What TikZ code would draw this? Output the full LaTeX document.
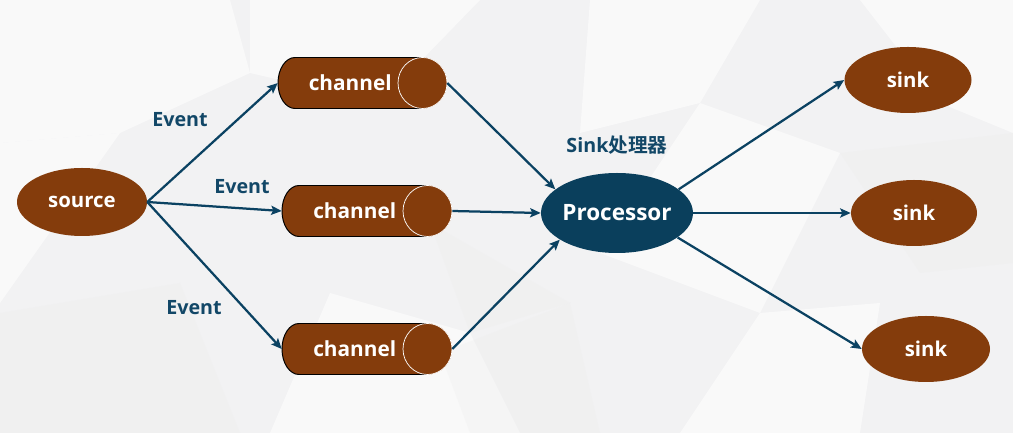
\documentclass[tikz,border=0pt]{standalone}
\usepackage{fontspec}
\setmainfont{Open Sans}[BoldFont={Open Sans Bold}]
\newfontfamily\cjk{Noto Sans CJK SC}[BoldFont={Noto Sans CJK SC Bold}]
\usetikzlibrary{shapes.geometric,arrows.meta}
\definecolor{brownfill}{HTML}{843C0C}
\definecolor{procfill}{HTML}{0A3F5C}
\definecolor{arrowcol}{HTML}{0B4262}
\definecolor{labelcol}{HTML}{124767}
\definecolor{bgbase}{HTML}{F2F2F3}
\def\u{0.025cm}
\tikzset{
  blob/.style={ellipse, fill=brownfill, inner sep=0pt, text=white, font=\bfseries\fontsize{14.5}{16}\selectfont},
  procnode/.style={ellipse, fill=procfill, inner sep=0pt, text=white, font=\bfseries\fontsize{16}{18}\selectfont},
  chanbox/.style={rectangle, inner sep=0pt, minimum height=51*\u},
  chantext/.style={text=white, inner sep=0pt, font=\bfseries\fontsize{14.8}{16}\selectfont},
  evlabel/.style={text=labelcol, inner sep=0pt, font=\bfseries\fontsize{14}{15}\selectfont},
  flow/.style={draw=arrowcol, line width=1.6pt, -{Stealth[length=7.5pt,width=6.5pt,inset=1.5pt]}},
  bgpoly/.style={fill=white, fill opacity=0.55, draw=none},
  bgdark/.style={fill=black!8, fill opacity=0.25, draw=none}
}
% channel: name, left x, right x, centre y
\newcommand{\chanshape}[4]{%
  \pgfmathsetmacro{\xc}{#3-24.5}%
  \pgfmathsetmacro{\xlr}{#2+17}%
  \fill[brownfill] (\xc,#4+25.5) -- (\xlr,#4+25.5)
     arc[start angle=90,end angle=270,x radius=17,y radius=25.5]
     -- (\xc,#4-25.5)
     arc[start angle=270,end angle=450,x radius=24.5,y radius=25.5] -- cycle;
  \draw[black, line width=0.7pt] (\xc,#4+25.5) -- (\xlr,#4+25.5)
     arc[start angle=90,end angle=270,x radius=17,y radius=25.5]
     -- (\xc,#4-25.5);
  \draw[white, line width=0.5pt, fill=brownfill] (\xc,#4) ellipse [x radius=24.5, y radius=25.5];
  \node[chanbox, minimum width={(#3-#2)*\u}] (#1) at ({(#2+#3)/2},#4) {};
  \node[chantext] (#1t) at ({(#2+\xc)/2},#4) {channel};
}
\begin{document}
\begin{tikzpicture}[x=0.025cm,y=0.025cm]
\useasboundingbox (0,0) rectangle (1013,433);
\fill[bgbase] (0,0) rectangle (1013,433);
% background facets
\path[bgpoly] (0,433) -- (230,433) -- (250,360) -- (120,300) -- (0,290) -- cycle;
\path[bgpoly] (250,433) -- (480,433) -- (380,330) -- (250,360) -- cycle;
\path[bgpoly] (590,433) -- (760,433) -- (700,330) -- (580,300) -- cycle;
\path[bgpoly] (600,180) -- (700,330) -- (840,280) -- (760,120) -- cycle;
\path[bgpoly] (860,433) -- (1013,433) -- (1013,300) -- (940,330) -- cycle;
\path[bgpoly] (0,130) -- (120,300) -- (0,290) -- cycle;
\path[bgpoly] (270,0) -- (520,0) -- (470,100) -- (330,140) -- cycle;
\path[bgpoly] (680,0) -- (860,0) -- (880,130) -- (760,120) -- cycle;
\path[bgdark] (0,0) -- (0,120) -- (180,150) -- (240,0) -- cycle;
\path[bgdark] (440,80) -- (570,130) -- (600,0) -- (470,0) -- cycle;
\path[bgdark] (840,280) -- (1013,300) -- (1013,170) -- (920,160) -- cycle;
\path[bgdark] (430,210) -- (470,100) -- (570,130) -- cycle;

% nodes
\node[blob, minimum width=130*\u, minimum height=68*\u] (src) at (82,231) {source};
\chanshape{c1}{278}{447}{350}
\chanshape{c2}{282}{452}{222}
\chanshape{c3}{282}{452}{84}
\node[procnode, minimum width=152*\u, minimum height=80*\u] (proc) at (617,220) {\makebox[0pt]{Processor}};
\node[blob, minimum width=127*\u, minimum height=66*\u] (s1) at (908,353) {sink};
\node[blob, minimum width=126*\u, minimum height=66*\u] (s2) at (914,220) {sink};
\node[blob, minimum width=128*\u, minimum height=66*\u] (s3) at (926,84) {sink};

% labels
\node[evlabel] (e1) at (180,313) {Event};
\node[evlabel] (e2) at (242,246) {Event};
\node[evlabel] (e3) at (194,125) {Event};
\node[evlabel] (plabel) at (617,288) {Sink{\cjk 处理器}};

% connectors
\draw[flow] (src.east) -- (c1.west);
\draw[flow] (src.east) -- (c2.west);
\draw[flow] (src.east) -- (c3.west);
\draw[flow] (c1.east) -- (proc.159);
\draw[flow] (c2.east) -- (proc.west);
\draw[flow] (c3.east) -- (proc.205);
\draw[flow] (proc.21) -- (s1.west);
\draw[flow] (proc.east) -- (s2.west);
\draw[flow] (proc.338) -- (s3.west);
\end{tikzpicture}
\end{document}
